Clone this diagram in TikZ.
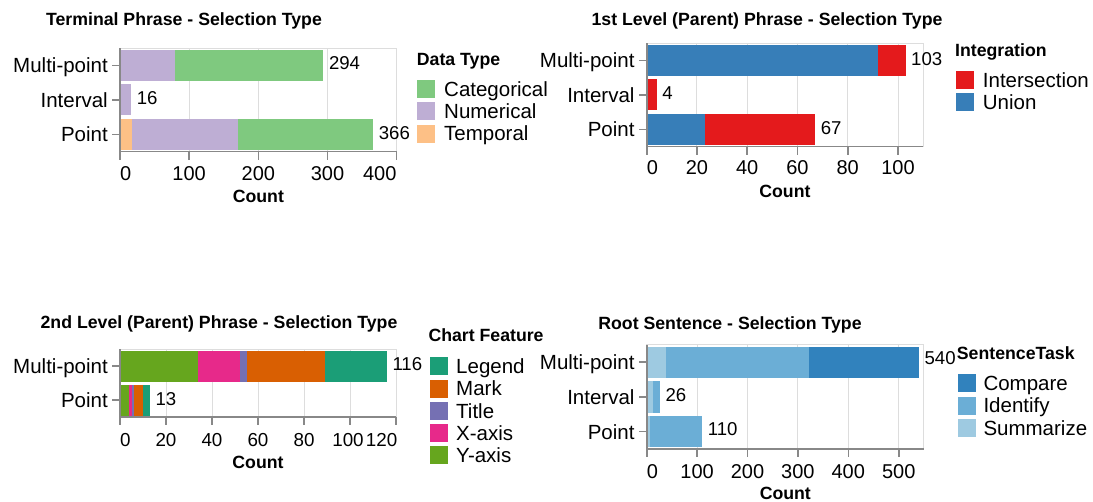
\documentclass[tikz,border=0pt]{standalone}
\usepackage{fontspec}
\setmainfont{Liberation Sans}
\definecolor{gridc}{HTML}{DDDDDD}
\definecolor{axc}{HTML}{888888}
\definecolor{cCat}{HTML}{7FC97F}
\definecolor{cNum}{HTML}{BEAED4}
\definecolor{cTem}{HTML}{FDC086}
\definecolor{cInt}{HTML}{E41A1C}
\definecolor{cUni}{HTML}{377EB8}
\definecolor{cLeg}{HTML}{1B9E77}
\definecolor{cMar}{HTML}{D95F02}
\definecolor{cTit}{HTML}{7570B3}
\definecolor{cXax}{HTML}{E7298A}
\definecolor{cYax}{HTML}{66A61E}
\definecolor{cCom}{HTML}{3182BD}
\definecolor{cIde}{HTML}{6BAED6}
\definecolor{cSum}{HTML}{9ECAE1}
\tikzset{
  lbl/.style={font=\fontsize{20.5}{24}\selectfont, inner sep=0pt, text height=14.7pt, text depth=0pt},
  tick/.style={font=\fontsize{20}{24}\selectfont, inner sep=0pt, text height=14.3pt, text depth=0pt},
  tickn/.style={font=\fontsize{18.8}{23}\selectfont, inner sep=0pt, text height=13.5pt, text depth=0pt},
  val/.style={font=\fontsize{18.6}{22}\selectfont, inner sep=0pt, text height=13.3pt, text depth=0pt, anchor=west},
  ttl/.style={font=\bfseries\fontsize{17.7}{21}\selectfont, inner sep=0pt, text height=12.7pt, text depth=0pt},
  gridline/.style={draw=gridc, line width=1pt},
  axisline/.style={draw=axc, line width=1.6pt},
  swatch/.style={inner sep=0pt, minimum size=18pt, anchor=west},
}
\begin{document}
\begin{tikzpicture}[x=1pt,y=-1pt]
\useasboundingbox (0,0) rectangle (1093,502);

% ================= Chart 1: Terminal Phrase =================
\node[ttl] (t1) at (184,19) {Terminal Phrase - Selection Type};
\begin{scope}[shift={(120,48.3)}, x=0.6917pt]
  \def\H{103.4}
  \foreach \v in {100,200,300} \draw[gridline] (\v,0) -- (\v,\H);
  \draw[gridline] (0,0) rectangle (400,\H);
  % Multi-point
  \fill[cTem] (0,1.7) rectangle (2,32.7);
  \fill[cNum] (2,1.7) rectangle (79,32.7);
  \fill[cCat] (79,1.7) rectangle (294,32.7);
  % Interval
  \fill[cNum] (0,36.2) rectangle (16,67.2);
  % Point
  \fill[cTem] (0,70.7) rectangle (18,101.7);
  \fill[cNum] (18,70.7) rectangle (170,101.7);
  \fill[cCat] (170,70.7) rectangle (366,101.7);
  \draw[axisline] (0,0) -- (0,\H);
  \draw[axisline] (0,\H) -- (400,\H);
  \foreach \v/\a in {0/west,100/center,200/center,300/center,400/east} {
    \draw[axisline] (\v,\H) -- ([yshift=-8pt]\v,\H);
    \node[tick, anchor=\a] (t1x\v) at ([yshift=-22pt]\v,\H) {\v};
  }
  \node[ttl] (t1c) at ([yshift=-44.7pt]200,\H) {Count};
  \foreach \c/\n/\t in {17.2/a/Multi-point,51.7/b/Interval,86.2/c/Point} {
    \draw[axisline] (0,\c) -- ([xshift=-8pt]0,\c);
    \node[lbl, anchor=east] (t1y\n) at ([xshift=-12pt]0,\c) {\t};
  }
  \node[val] (t1va) at ([xshift=5.5pt]294,15) {294};
  \node[val] (t1vb) at ([xshift=5.5pt]16,50) {16};
  \node[val] (t1vc) at ([xshift=5.5pt]366,84.4) {366};
\end{scope}
\node[ttl, anchor=west] (l1t) at (416.7,59) {Data Type};
\foreach \yy/\cc/\tt [count=\i] in {89/cCat/Categorical,111.3/cNum/Numerical,133.6/cTem/Temporal} {
  \node[swatch, fill=\cc] (l1s\i) at (416.7,\yy) {};
  \node[lbl, anchor=west] (l1l\i) at (444,\yy) {\tt};
}

% ================= Chart 2: 1st Level =================
\node[ttl] (t2) at (767,19) {1st Level (Parent) Phrase - Selection Type};
\begin{scope}[shift={(646.7,43.3)}, x=2.513pt]
  \def\H{103.4}
  \foreach \v in {20,40,60,80,100} \draw[gridline] (\v,0) -- (\v,\H);
  \draw[gridline] (0,0) rectangle (110,\H);
  \fill[cUni] (0,1.7) rectangle (92,32.7);
  \fill[cInt] (92,1.7) rectangle (103,32.7);
  \fill[cInt] (0,36.2) rectangle (4,67.2);
  \fill[cUni] (0,70.7) rectangle (23,101.7);
  \fill[cInt] (23,70.7) rectangle (67,101.7);
  \draw[axisline] (0,0) -- (0,\H);
  \draw[axisline] (0,\H) -- (110,\H);
  \foreach \v/\a in {0/west,20/center,40/center,60/center,80/center,100/center} {
    \draw[axisline] (\v,\H) -- ([yshift=-8pt]\v,\H);
    \node[tick, anchor=\a] (t2x\v) at ([yshift=-21pt]\v,\H) {\v};
  }
  \node[ttl] (t2c) at ([yshift=-44.7pt]55,\H) {Count};
  \foreach \c/\n/\t in {17.2/a/Multi-point,51.7/b/Interval,86.2/c/Point} {
    \draw[axisline] (0,\c) -- ([xshift=-8pt]0,\c);
    \node[lbl, anchor=east] (t2y\n) at ([xshift=-12pt]0,\c) {\t};
  }
  \node[val] (t2va) at ([xshift=5.5pt]103,15.5) {103};
  \node[val] (t2vb) at ([xshift=5.5pt]4,50) {4};
  \node[val] (t2vc) at ([xshift=5.5pt]67,84.5) {67};
\end{scope}
\node[ttl, anchor=west] (l2t) at (955,50) {Integration};
\foreach \yy/\cc/\tt [count=\i] in {80/cInt/Intersection,102.3/cUni/Union} {
  \node[swatch, fill=\cc] (l2s\i) at (956,\yy) {};
  \node[lbl, anchor=west] (l2l\i) at (982.7,\yy) {\tt};
}

% ================= Chart 3: 2nd Level =================
\node[ttl] (t3) at (219,321.7) {2nd Level (Parent) Phrase - Selection Type};
\begin{scope}[shift={(120,349.3)}, x=2.3pt]
  \def\H{68}
  \foreach \v in {20,40,60,80,100} \draw[gridline] (\v,0) -- (\v,\H);
  \draw[gridline] (0,0) rectangle (120,\H);
  \fill[cYax] (0,1.5) rectangle (34,32.5);
  \fill[cXax] (34,1.5) rectangle (52,32.5);
  \fill[cTit] (52,1.5) rectangle (55,32.5);
  \fill[cMar] (55,1.5) rectangle (89,32.5);
  \fill[cLeg] (89,1.5) rectangle (116,32.5);
  \fill[cYax] (0,35.5) rectangle (4,66.5);
  \fill[cXax] (4,35.5) rectangle (5,66.5);
  \fill[cTit] (5,35.5) rectangle (6,66.5);
  \fill[cMar] (6,35.5) rectangle (10,66.5);
  \fill[cLeg] (10,35.5) rectangle (13,66.5);
  \draw[axisline] (0,0) -- (0,\H);
  \draw[axisline] (0,\H) -- (120,\H);
  \foreach \v/\a in {0/west,20/center,40/center,60/center,80/center} {
    \draw[axisline] (\v,\H) -- ([yshift=-8pt]\v,\H);
    \node[tickn, anchor=\a] (t3x\v) at ([yshift=-22.7pt]\v,\H) {\v};
  }
  \draw[axisline] (100,\H) -- ([yshift=-8pt]100,\H);
  \node[tickn] (t3x100) at ([xshift=-2pt,yshift=-22.7pt]100,\H) {100};
  \draw[axisline] (120,\H) -- ([yshift=-8pt]120,\H);
  \node[tickn, anchor=east] (t3x120) at ([xshift=1.5pt,yshift=-22.7pt]120,\H) {120};
  \node[ttl] (t3c) at ([yshift=-44.7pt]60,\H) {Count};
  \foreach \c/\n/\t in {17/a/Multi-point,51/c/Point} {
    \draw[axisline] (0,\c) -- ([xshift=-8pt]0,\c);
    \node[lbl, anchor=east] (t3y\n) at ([xshift=-12pt]0,\c) {\t};
  }
  \node[val] (t3va) at ([xshift=5.5pt]116,15) {116};
  \node[val] (t3vc) at ([xshift=5.5pt]13,49.5) {13};
\end{scope}
\node[ttl, anchor=west] (l3t) at (428.3,335) {Chart Feature};
\foreach \yy/\cc/\tt [count=\i] in {366.3/cLeg/Legend,388.6/cMar/Mark,410.9/cTit/Title,433.2/cXax/X-axis,455.5/cYax/Y-axis} {
  \node[swatch, fill=\cc] (l3s\i) at (429.3,\yy) {};
  \node[lbl, anchor=west] (l3l\i) at (456,\yy) {\tt};
}

% ================= Chart 4: Root Sentence =================
\node[ttl] (t4) at (730,323.5) {Root Sentence - Selection Type};
\begin{scope}[shift={(646.7,345)}, x=0.504pt]
  \def\H{104}
  \foreach \v in {100,200,300,400,500} \draw[gridline] (\v,0) -- (\v,\H);
  \draw[gridline] (0,0) rectangle (550,\H);
  \fill[cSum] (0,1.7) rectangle (38,32.9);
  \fill[cIde] (38,1.7) rectangle (323,32.9);
  \fill[cCom] (323,1.7) rectangle (540,32.9);
  \fill[cSum] (0,36.4) rectangle (13,67.6);
  \fill[cIde] (13,36.4) rectangle (26,67.6);
  \fill[cSum] (0,71.1) rectangle (6,102.3);
  \fill[cIde] (6,71.1) rectangle (110,102.3);
  \draw[axisline] (0,0) -- (0,\H);
  \draw[axisline] (0,\H) -- (550,\H);
  \foreach \v/\a in {0/west,100/center,200/center,300/center,400/center,500/center} {
    \draw[axisline] (\v,\H) -- ([yshift=-8pt]\v,\H);
    \node[tick, anchor=\a] (t4x\v) at ([yshift=-22.7pt]\v,\H) {\v};
  }
  \node[ttl] (t4c) at ([yshift=-44.3pt]275,\H) {Count};
  \foreach \c/\n/\t in {17.3/a/Multi-point,52/b/Interval,86.7/c/Point} {
    \draw[axisline] (0,\c) -- ([xshift=-8pt]0,\c);
    \node[lbl, anchor=east] (t4y\n) at ([xshift=-12pt]0,\c) {\t};
  }
  \node[val] (t4va) at ([xshift=5.5pt]540,13.3) {540};
  \node[val] (t4vb) at ([xshift=5.5pt]26,50) {26};
  \node[val] (t4vc) at ([xshift=5.5pt]110,84.3) {110};
\end{scope}
\node[ttl, anchor=west] (l4t) at (956.7,353.3) {SentenceTask};
\foreach \yy/\cc/\tt [count=\i] in {383.3/cCom/Compare,405.6/cIde/Identify,427.9/cSum/Summarize} {
  \node[swatch, fill=\cc] (l4s\i) at (957.3,\yy) {};
  \node[lbl, anchor=west] (l4l\i) at (983.3,\yy) {\tt};
}
\end{tikzpicture}
\end{document}
